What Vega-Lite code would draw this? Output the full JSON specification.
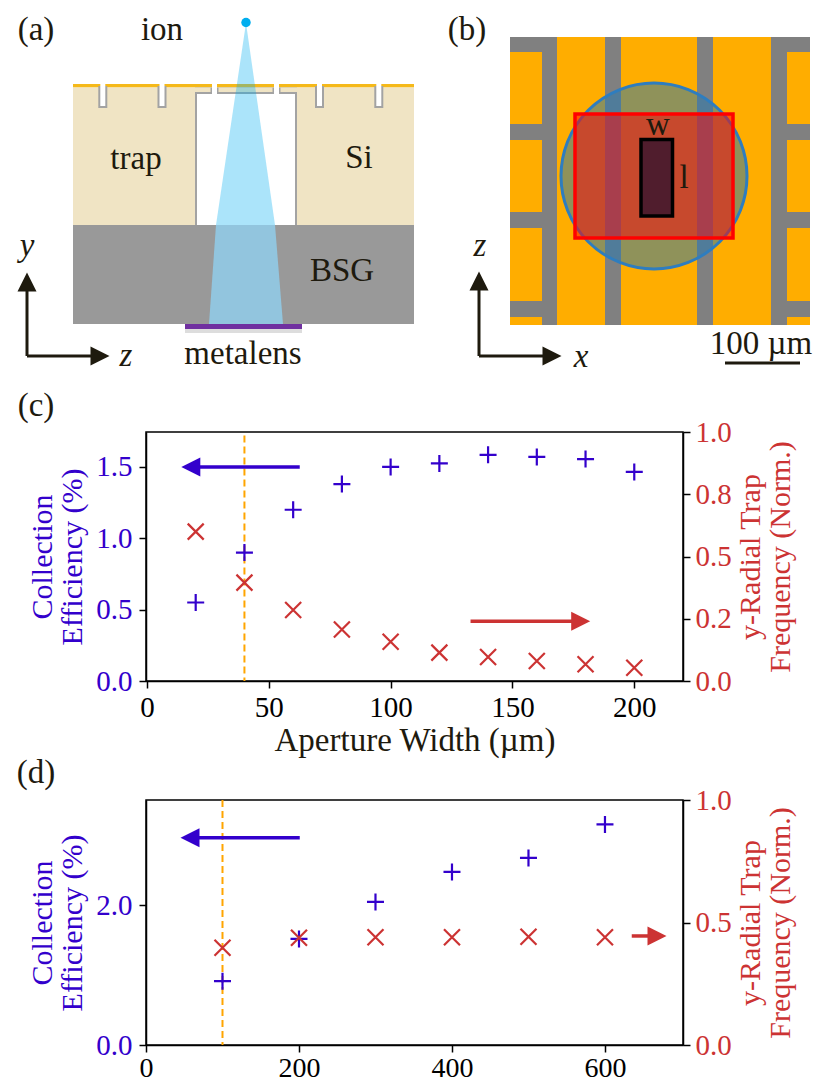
{
"$schema":"https://vega.github.io/schema/vega-lite/v6.json",
"background":"white","padding":0,"bounds":"flush","spacing":119,
"config":{"font":"Liberation Serif","text":{"font":"Liberation Serif"},
"axis":{"grid":false,"labelFont":"Liberation Serif","titleFont":"Liberation Serif","labelFontSize":29,"titleFontSize":30,"titleFontWeight":"normal","domainColor":"#000","domainWidth":1.5,"tickColor":"#000","tickWidth":1.5,"tickSize":7,"labelPadding":5,"titleLineHeight":30,"labelFlush":false,"labelOverlap":false}},
"vconcat":[
{"width":537,"height":313,"view":{"stroke":null},
"encoding":{"x":{"field":"x","type":"quantitative","axis":null,"scale":{"domain":[146,683],"nice":false,"zero":false}},
"y":{"field":"y","type":"quantitative","axis":null,"scale":{"domain":[0,313],"reverse":true,"nice":false,"zero":false}}},
"layer":[
{"data":{"values":[{"x":0,"x2":837,"y":0,"y2":1082}]},"mark":{"type":"rect","fill":"white"},"encoding":{"x2":{"field":"x2"},"y2":{"field":"y2"}}},
{"data":{"values":[
{"p":"gold","x":73,"x2":212,"y":84,"y2":87.5},{"p":"gold","x":217,"x2":274,"y":84,"y2":87.5},{"p":"gold","x":279,"x2":414,"y":84,"y2":87.5},
{"p":"beige","x":73,"x2":195,"y":87.5,"y2":225},{"p":"beige","x":297,"x2":414,"y":87.5,"y2":225},
{"p":"line","x":195,"x2":212,"y":87.5,"y2":94},{"p":"line","x":217,"x2":274,"y":87.5,"y2":94},{"p":"line","x":279,"x2":297,"y":87.5,"y2":94},
{"p":"beige","x":195,"x2":210.5,"y":87.5,"y2":92},{"p":"beige","x":218.5,"x2":272.5,"y":87.5,"y2":92},{"p":"beige","x":280.5,"x2":297,"y":87.5,"y2":92},
{"p":"line","x":195,"x2":197,"y":92,"y2":225},{"p":"line","x":295,"x2":297,"y":92,"y2":225},
{"p":"white","x":197,"x2":295,"y":94,"y2":225},
{"p":"line","x":98.3,"x2":107.3,"y":86,"y2":108},{"p":"white","x":100.3,"x2":105.3,"y":84,"y2":106},
{"p":"line","x":157.5,"x2":166.5,"y":86,"y2":108},{"p":"white","x":159.5,"x2":164.5,"y":84,"y2":106},
{"p":"line","x":315,"x2":324,"y":86,"y2":108},{"p":"white","x":317,"x2":322,"y":84,"y2":106},
{"p":"line","x":374.3,"x2":383.3,"y":86,"y2":108},{"p":"white","x":376.3,"x2":381.3,"y":84,"y2":106},
{"p":"bsg","x":73,"x2":414,"y":225,"y2":324},
{"p":"shadow","x":185,"x2":302,"y":328,"y2":333},{"p":"purple","x":185,"x2":302,"y":324,"y2":329},
{"p":"orange","x":510,"x2":810,"y":37,"y2":325},
{"p":"gray","x":542,"x2":557,"y":37,"y2":325},{"p":"gray","x":605,"x2":621,"y":37,"y2":325},{"p":"gray","x":697,"x2":713,"y":37,"y2":325},{"p":"gray","x":771,"x2":787,"y":37,"y2":325},
{"p":"gray","x":510,"x2":542,"y":37,"y2":52},{"p":"gray","x":510,"x2":542,"y":124,"y2":140},{"p":"gray","x":510,"x2":542,"y":212,"y2":228},{"p":"gray","x":510,"x2":542,"y":301,"y2":317},
{"p":"gray","x":787,"x2":810,"y":37,"y2":52},{"p":"gray","x":787,"x2":810,"y":124,"y2":140},{"p":"gray","x":787,"x2":810,"y":212,"y2":228},{"p":"gray","x":787,"x2":810,"y":301,"y2":317}
]},"mark":{"type":"rect"},"encoding":{"x2":{"field":"x2"},"y2":{"field":"y2"},
"color":{"field":"p","type":"nominal","legend":null,"scale":{"domain":["gold","beige","line","white","bsg","shadow","purple","orange","gray"],"range":["#F5B91A","#F0E4C4","#A3A3A3","#FFFFFF","#999999","#DDDDDD","#7030A0","#FFAD00","#808080"]}}}},
{"data":{"values":[{"x":246,"x2":246,"y":23},{"x":216,"x2":275,"y":225}]},"mark":{"type":"area","orient":"horizontal","fill":"#00AEEF","opacity":0.33},"encoding":{"x":{"field":"x","type":"quantitative","stack":null},"x2":{"field":"x2"}}},
{"data":{"values":[{"x":216,"x2":275,"y":225},{"x":209,"x2":283,"y":324}]},"mark":{"type":"area","orient":"horizontal","fill":"#92C5DE"},"encoding":{"x":{"field":"x","type":"quantitative","stack":null},"x2":{"field":"x2"}}},
{"data":{"values":[{"x":246,"y":22.5}]},"mark":{"type":"point","shape":"circle","filled":true,"fill":"#00AEEF","opacity":1,"size":90}},
{"data":{"values":[{"x":654,"y":176}]},"mark":{"type":"point","shape":"circle","fill":"#1F77B4","fillOpacity":0.5,"stroke":"#2E7DBF","strokeWidth":3,"opacity":1,"size":34596}},
{"data":{"values":[{"x":575,"x2":733,"y":114,"y2":238}]},"mark":{"type":"rect","fill":"#FF0000","fillOpacity":0.5,"stroke":"#FF0000","strokeWidth":3.5},"encoding":{"x2":{"field":"x2"},"y2":{"field":"y2"}}},
{"data":{"values":[{"x":641,"x2":672.5,"y":139.5,"y2":216}]},"mark":{"type":"rect","fill":"#00002D","fillOpacity":0.6,"stroke":"#000000","strokeWidth":3.5},"encoding":{"x2":{"field":"x2"},"y2":{"field":"y2"}}},
{"data":{"values":[{"x":27,"x2":27,"y":285,"y2":356},{"x":27,"x2":100,"y":356,"y2":356},{"x":479,"x2":479,"y":285,"y2":356},{"x":479,"x2":552,"y":356,"y2":356},{"x":725,"x2":800,"y":363,"y2":363}]},"mark":{"type":"rule","stroke":"#1E1A0E","strokeWidth":3},"encoding":{"x2":{"field":"x2"},"y2":{"field":"y2"}}},
{"data":{"values":[{"d":"up","x":27,"y":282},{"d":"right","x":100,"y":356},{"d":"up","x":479,"y":281},{"d":"right","x":552,"y":356}]},"mark":{"type":"point","filled":true,"fill":"#1E1A0E","opacity":1,"size":361},"encoding":{"shape":{"field":"d","type":"nominal","legend":null,"scale":{"domain":["up","right"],"range":["M0,-1L1,1L-1,1Z","M1,0L-1,-1L-1,1Z"]}}}},
{"data":{"values":[
{"t":"(a)","x":36,"y":40},{"t":"ion","x":162,"y":40},{"t":"trap","x":136,"y":169},{"t":"Si","x":359,"y":168},{"t":"BSG","x":342,"y":281},{"t":"metalens","x":243,"y":364},
{"t":"(b)","x":467,"y":40},{"t":"w","x":658,"y":135},{"t":"l","x":684,"y":188},{"t":"100 µm","x":761,"y":354}]},
"mark":{"type":"text","fontSize":33,"color":"#1E1A0E","baseline":"alphabetic","align":"center"},"encoding":{"text":{"field":"t"}}},
{"data":{"values":[{"t":"y","x":27,"y":256},{"t":"z","x":126,"y":366},{"t":"z","x":480,"y":256},{"t":"x","x":581,"y":367}]},
"mark":{"type":"text","fontSize":33,"fontStyle":"italic","color":"#1E1A0E","baseline":"alphabetic","align":"center"},"encoding":{"text":{"field":"t"}}},
{"data":{"values":[{"t":"(c)","x":36,"y":416},{"t":"(d)","x":36,"y":783}]},
"mark":{"type":"text","fontSize":33,"color":"#1E1A0E","baseline":"alphabetic","align":"center"},"encoding":{"text":{"field":"t"}}}
]},
{"width":537,"height":249,"view":{"stroke":"#000","strokeWidth":1.5},
"resolve":{"scale":{"y":"independent"},"axis":{"y":"independent"}},
"encoding":{"x":{"field":"x","type":"quantitative","title":"Aperture Width (µm)","scale":{"domain":[-0.4,220],"nice":false,"zero":false},"axis":{"values":[0,50,100,150,200],"format":"d","titleColor":"#1E1A0E","titleFontSize":33,"titlePadding":2,"labelColor":"#000"}}},
"layer":[
{"encoding":{
"y":{"field":"v","type":"quantitative","scale":{"domain":[0,1.745],"nice":false},"axis":{"values":[0,0.5,1,1.5],"format":".1f","orient":"left","labelColor":"#3300CC","titleColor":"#3300CC","labelPadding":7,"titlePadding":8,"title":["Collection","Efficiency (%)"]}}},
"layer":[
{"data":{"values":[{"x":40,"v":1.72,"v2":0}]},"mark":{"type":"rule","stroke":"#FFA500","strokeWidth":2,"strokeDash":[7,4]},"encoding":{"y2":{"field":"v2"}}},
{"data":{"values":[{"x":20,"v":0.55},{"x":40,"v":0.9},{"x":60,"v":1.2},{"x":80,"v":1.38},{"x":100,"v":1.5},{"x":120,"v":1.525},{"x":140,"v":1.585},{"x":160,"v":1.57},{"x":180,"v":1.555},{"x":200,"v":1.465}]},"mark":{"type":"point","shape":"M-1,0L1,0M0,-1L0,1","filled":false,"stroke":"#3300CC","strokeWidth":2.2,"opacity":1,"size":289}},
{"data":{"values":[{"x":62.7,"x2":20,"v":1.5}]},"mark":{"type":"rule","stroke":"#3300CC","strokeWidth":3.5},"encoding":{"x2":{"field":"x2"}}},
{"data":{"values":[{"x":18,"v":1.5}]},"mark":{"type":"point","shape":"M-1,0L1,-1L1,1Z","filled":true,"fill":"#3300CC","opacity":1,"size":361}}
]},
{"encoding":{
"y":{"field":"v","type":"quantitative","scale":{"domain":[0,1],"nice":false},"axis":{"values":[0,0.25,0.5,0.75,1],"orient":"right","labelColor":"#CC3333","titleColor":"#CC3333","titleAngle":270,"labelExpr":"datum.value==0.25?'0.2':datum.value==0.75?'0.8':format(datum.value,'.1f')","title":["y-Radial Trap","Frequency (Norm.)"]}}},
"layer":[
{"data":{"values":[{"x":20,"v":0.6},{"x":40,"v":0.395},{"x":60,"v":0.285},{"x":80,"v":0.207},{"x":100,"v":0.158},{"x":120,"v":0.114},{"x":140,"v":0.096},{"x":160,"v":0.08},{"x":180,"v":0.067},{"x":200,"v":0.053}]},"mark":{"type":"point","shape":"M-1,-1L1,1M-1,1L1,-1","filled":false,"stroke":"#CC3333","strokeWidth":2.2,"opacity":1,"size":256}},
{"data":{"values":[{"x":132.8,"x2":175,"v":0.24}]},"mark":{"type":"rule","stroke":"#CC3333","strokeWidth":3.5},"encoding":{"x2":{"field":"x2"}}},
{"data":{"values":[{"x":178,"v":0.24}]},"mark":{"type":"point","shape":"M1,0L-1,-1L-1,1Z","filled":true,"fill":"#CC3333","opacity":1,"size":361}}
]}
]},
{"width":537,"height":245,"view":{"stroke":"#000","strokeWidth":1.5},
"resolve":{"scale":{"y":"independent"},"axis":{"y":"independent"}},
"encoding":{"x":{"field":"x","type":"quantitative","title":null,"scale":{"domain":[0,702],"nice":false,"zero":false},"axis":{"values":[0,200,400,600],"format":"d","labelColor":"#000","labelFontSize":28,"labelPadding":2}}},
"layer":[
{"encoding":{
"y":{"field":"v","type":"quantitative","scale":{"domain":[0,3.51],"nice":false},"axis":{"values":[0,2],"format":".1f","orient":"left","labelColor":"#3300CC","titleColor":"#3300CC","labelPadding":7,"titlePadding":8,"title":["Collection","Efficiency (%)"]}}},
"layer":[
{"data":{"values":[{"x":100,"v":3.51,"v2":0}]},"mark":{"type":"rule","stroke":"#FFA500","strokeWidth":2,"strokeDash":[7,4]},"encoding":{"y2":{"field":"v2"}}},
{"data":{"values":[{"x":100,"v":0.914},{"x":200,"v":1.52},{"x":300,"v":2.05},{"x":400,"v":2.48},{"x":500,"v":2.68},{"x":600,"v":3.16}]},"mark":{"type":"point","shape":"M-1,0L1,0M0,-1L0,1","filled":false,"stroke":"#3300CC","strokeWidth":2.2,"opacity":1,"size":289}},
{"data":{"values":[{"x":201,"x2":60,"v":2.97}]},"mark":{"type":"rule","stroke":"#3300CC","strokeWidth":3.5},"encoding":{"x2":{"field":"x2"}}},
{"data":{"values":[{"x":57.5,"v":2.97}]},"mark":{"type":"point","shape":"M-1,0L1,-1L1,1Z","filled":true,"fill":"#3300CC","opacity":1,"size":361}}
]},
{"encoding":{
"y":{"field":"v","type":"quantitative","scale":{"domain":[0,1],"nice":false},"axis":{"values":[0,0.5,1],"format":".1f","orient":"right","labelColor":"#CC3333","titleColor":"#CC3333","titleAngle":270,"title":["y-Radial Trap","Frequency (Norm.)"]}}},
"layer":[
{"data":{"values":[{"x":100,"v":0.397},{"x":200,"v":0.438},{"x":300,"v":0.44},{"x":400,"v":0.44},{"x":500,"v":0.442},{"x":600,"v":0.44}]},"mark":{"type":"point","shape":"M-1,-1L1,1M-1,1L1,-1","filled":false,"stroke":"#CC3333","strokeWidth":2.2,"opacity":1,"size":256}},
{"data":{"values":[{"x":635,"x2":660,"v":0.445}]},"mark":{"type":"rule","stroke":"#CC3333","strokeWidth":3.5},"encoding":{"x2":{"field":"x2"}}},
{"data":{"values":[{"x":668,"v":0.445}]},"mark":{"type":"point","shape":"M1,0L-1,-1L-1,1Z","filled":true,"fill":"#CC3333","opacity":1,"size":361}}
]}
]}
]
}
